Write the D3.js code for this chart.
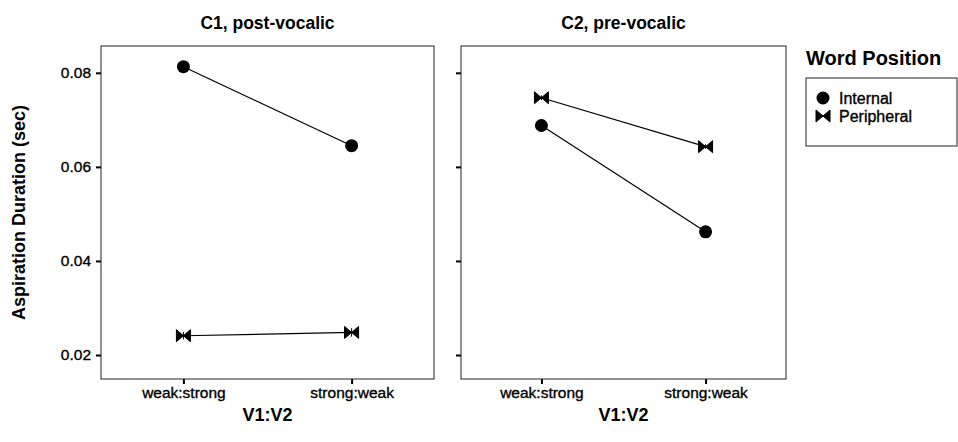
<!DOCTYPE html>
<html>
<head>
<meta charset="utf-8">
<script src="https://cdn.jsdelivr.net/npm/d3@7"></script>
<style>
  body { margin: 0; background: #fff; }
  text { font-family: "Liberation Sans", Arial, sans-serif; }
</style>
</head>
<body>
<svg id="chart" width="958" height="442"></svg>
<script>
// data
var categories = ['weak:strong', 'strong:weak'];
var panels = ['C1, post-vocalic', 'C2, pre-vocalic'];
var groups = ['Internal', 'Peripheral'];
var c1Internal = [0.0813, 0.0645];
var c1Peripheral = [0.0241, 0.0248];
var c2Internal = [0.0688, 0.0462];
var c2Peripheral = [0.0747, 0.0643];
var c1InternalErr = [0.0006, 0.0010];
var c1PeripheralErr = [0.0008, 0.0009];
var c2InternalErr = [0.0005, 0.0005];
var c2PeripheralErr = [0.0005, 0.0005];
var yTicks = [0.02, 0.04, 0.06, 0.08];

var svg = d3.select('#chart');

var plotTop = 46, plotBottom = 379;
var y = d3.scaleLinear().domain([0.0149, 0.0857]).range([plotBottom, plotTop]);

var layout = [
  { x0: 101, x1: 434, series: [[c1Internal, c1InternalErr], [c1Peripheral, c1PeripheralErr]] },
  { x0: 461, x1: 786, series: [[c2Internal, c2InternalErr], [c2Peripheral, c2PeripheralErr]] }
];

function bowtie(g, cx, cy) {
  var w = 7, h = 6;
  g.append('path')
    .attr('d', 'M' + (cx - w) + ',' + (cy - h) + 'L' + cx + ',' + cy + 'L' + (cx - w) + ',' + (cy + h) + 'Z' +
               'M' + (cx + w) + ',' + (cy - h) + 'L' + cx + ',' + cy + 'L' + (cx + w) + ',' + (cy + h) + 'Z')
    .attr('fill', '#000')
    .attr('stroke', '#000')
    .attr('stroke-width', 1)
    .attr('stroke-linejoin', 'round');
}

// scanned text looks heavier than plain regular weight
function heavy(sel) {
  sel.attr('fill', '#000').attr('stroke', '#000').attr('stroke-width', 0.35);
}

layout.forEach(function (p, i) {
  var x = d3.scalePoint().domain(categories).range([p.x0, p.x1]).padding(0.49);
  var g = svg.append('g');

  // panel title
  g.append('text')
    .attr('x', (p.x0 + p.x1) / 2)
    .attr('y', 29)
    .attr('text-anchor', 'middle')
    .style('font-size', '17.5px')
    .style('font-weight', 'bold')
    .text(panels[i]);

  // x axis
  var xAxis = d3.axisBottom(x).tickSize(5).tickPadding(3);
  var xg = g.append('g').attr('transform', 'translate(0,' + plotBottom + ')').call(xAxis);
  xg.select('.domain').remove();
  xg.selectAll('line').attr('stroke', '#000').attr('stroke-width', 2);
  xg.selectAll('text').style('font-size', '15.5px')
    .style('font-family', '"Liberation Sans", Arial, sans-serif').call(heavy);

  // y axis
  var yAxis = d3.axisLeft(y).tickValues(yTicks).tickSize(5).tickPadding(5)
    .tickFormat(i === 0 ? d3.format('.2f') : '');
  var yg = g.append('g').attr('transform', 'translate(' + p.x0 + ',0)').call(yAxis);
  yg.select('.domain').remove();
  yg.selectAll('line').attr('stroke', '#000').attr('stroke-width', 2);
  yg.selectAll('text').style('font-size', '15.5px')
    .style('font-family', '"Liberation Sans", Arial, sans-serif').call(heavy);

  // panel border
  g.append('rect')
    .attr('x', p.x0).attr('y', plotTop)
    .attr('width', p.x1 - p.x0).attr('height', plotBottom - plotTop)
    .attr('fill', 'none').attr('stroke', '#222').attr('stroke-width', 1);

  // axis title
  g.append('text')
    .attr('x', (p.x0 + p.x1) / 2)
    .attr('y', 421)
    .attr('text-anchor', 'middle')
    .style('font-size', '18px')
    .style('font-weight', 'bold')
    .text('V1:V2');

  p.series.forEach(function (s, k) {
    var vals = s[0], errs = s[1];
    var line = d3.line().x(function (d, j) { return x(categories[j]); }).y(function (d) { return y(d); });
    g.append('path').datum(vals).attr('d', line)
      .attr('fill', 'none').attr('stroke', '#000').attr('stroke-width', 1.2);
    vals.forEach(function (v, j) {
      var cx = x(categories[j]);
      g.append('line')
        .attr('x1', cx).attr('x2', cx)
        .attr('y1', y(v - errs[j])).attr('y2', y(v + errs[j]))
        .attr('stroke', '#000').attr('stroke-width', 1);
      if (k === 0) {
        g.append('circle').attr('cx', cx).attr('cy', y(v)).attr('r', 6.5).attr('fill', '#000');
      } else {
        bowtie(g, cx, y(v));
      }
    });
  });
});

// y axis title
svg.append('text')
  .attr('transform', 'translate(25,' + ((plotTop + plotBottom) / 2) + ') rotate(-90)')
  .attr('text-anchor', 'middle')
  .style('font-size', '18px')
  .style('font-weight', 'bold')
  .text('Aspiration Duration (sec)');

// legend
var lg = svg.append('g');
lg.append('text')
  .attr('x', 806).attr('y', 65)
  .style('font-size', '20px')
  .style('font-weight', 'bold')
  .text('Word Position');
lg.append('rect')
  .attr('x', 806).attr('y', 78).attr('width', 151).attr('height', 68)
  .attr('fill', 'none').attr('stroke', '#222').attr('stroke-width', 1);
groups.forEach(function (name, k) {
  var cy = 98 + k * 18;
  if (k === 0) {
    lg.append('circle').attr('cx', 823).attr('cy', cy).attr('r', 6.5).attr('fill', '#000');
  } else {
    bowtie(lg, 823, cy);
  }
  lg.append('text')
    .attr('x', 839).attr('y', cy + 5.5)
    .style('font-size', '16px')
    .call(heavy)
    .text(name);
});
</script>
</body>
</html>
